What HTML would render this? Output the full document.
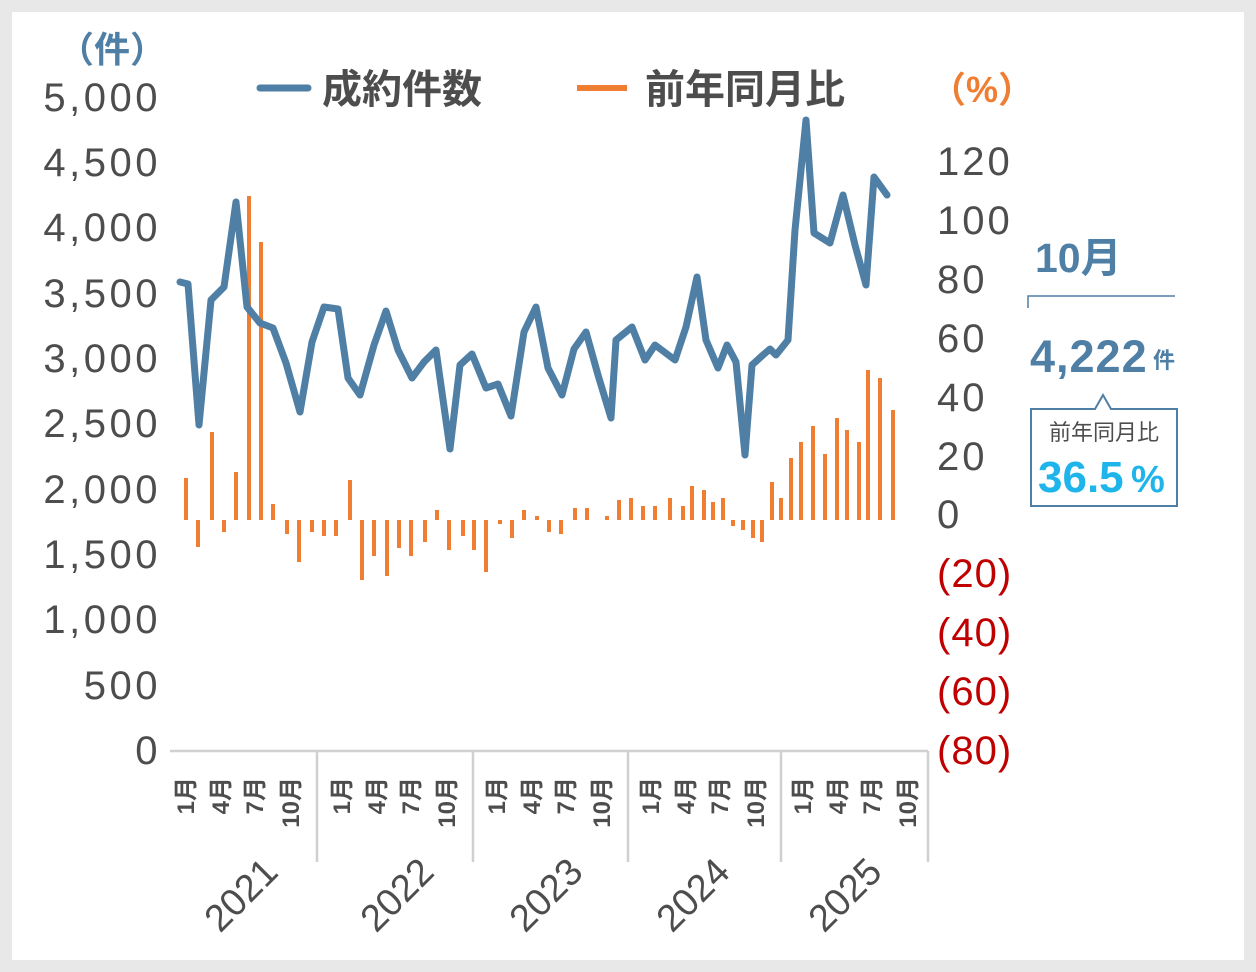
<!DOCTYPE html>
<html><head><meta charset="utf-8"><style>
html,body{margin:0;padding:0;background:#e8e8e8;}
svg{display:block;font-family:"Liberation Sans","Noto Sans CJK JP",sans-serif;}
</style></head><body>
<svg width="1256" height="972" viewBox="0 0 1256 972" xmlns="http://www.w3.org/2000/svg">
<rect x="0" y="0" width="1256" height="972" fill="#e8e8e8"/>
<rect x="12" y="12" width="1232" height="948" fill="#fff"/>
<!-- axis labels -->
<text x="58" y="62" font-size="36" font-weight="bold" fill="#4f7fa5">（件）</text>
<g font-size="40" fill="#4d4d4d" text-anchor="end" letter-spacing="3.5">
<text x="161" y="111">5,000</text><text x="161" y="176">4,500</text><text x="161" y="241">4,000</text>
<text x="161" y="307">3,500</text><text x="161" y="372">3,000</text><text x="161" y="437">2,500</text>
<text x="161" y="503">2,000</text><text x="161" y="568">1,500</text><text x="161" y="633">1,000</text>
<text x="161" y="699">500</text><text x="161" y="764">0</text>
</g>
<text x="930" y="102" font-size="36" font-weight="bold" fill="#ef7d32">（%）</text>
<g font-size="40" fill="#4d4d4d" letter-spacing="3">
<text x="937" y="175">120</text><text x="937" y="234">100</text><text x="937" y="293">80</text>
<text x="937" y="352">60</text><text x="937" y="411">40</text><text x="937" y="470">20</text>
<text x="937" y="528">0</text>
</g>
<g font-size="40" fill="#c00000" letter-spacing="1">
<text x="937" y="587">(20)</text><text x="937" y="646">(40)</text><text x="937" y="705">(60)</text><text x="937" y="764">(80)</text>
</g>
<!-- legend -->
<line x1="260" y1="88" x2="308" y2="88" stroke="#4f7fa5" stroke-width="7" stroke-linecap="round"/>
<text x="322" y="103" font-size="40" font-weight="bold" fill="#4d4d4d">成約件数</text>
<line x1="577" y1="88" x2="627" y2="88" stroke="#ef7d32" stroke-width="6"/>
<text x="645" y="103" font-size="40" font-weight="bold" fill="#4d4d4d">前年同月比</text>
<!-- axes -->
<g stroke="#d0d0d0" stroke-width="2.5">
<line x1="170" y1="751" x2="928" y2="751"/>
<line x1="317" y1="751" x2="317" y2="862"/><line x1="473" y1="751" x2="473" y2="862"/>
<line x1="628" y1="751" x2="628" y2="862"/><line x1="781" y1="751" x2="781" y2="862"/>
<line x1="928" y1="751" x2="928" y2="862"/>
</g>
<!-- bars -->
<path stroke="#ef7d32" stroke-width="4" fill="none" d="M186 520V478M198 520V547M212 520V432M224 520V532M236 520V472M249 520V196M261 520V242M273 520V504M287 520V534M299 520V562M312 520V532M324 520V536M336 520V536M350 520V480M362 520V580M374 520V556M387 520V576M399 520V548M411 520V556M425 520V542M437 520V510M449 520V550M463 520V536M474 520V550M486 520V572M500 520V524M512 520V538M524 520V510M537 520V516M549 520V532M561 520V534M575 520V508M587 520V508M607 520V516M619 520V500M631 520V498M643 520V506M655 520V506M670 520V498M683 520V506M692 520V486M704 520V490M713 520V502M723 520V498M733 520V526M743 520V530M753 520V538M762 520V542M772 520V482M781 520V498M791 520V458M801 520V442M813 520V426M825 520V454M837 520V418M847 520V430M859 520V442M868 520V370M880 520V378M893 520V410"/>
<!-- line -->
<polyline fill="none" stroke="#4f7fa5" stroke-width="7" stroke-linejoin="round" stroke-linecap="round" points="180,282 188,284 199,425 211,300 224,287 236,202 247,307 260,323 273,328 286,363 300,412 312,342 324,307 338,309 348,378 360,395 374,345 386,311 398,350 412,378 424,362 436,350 450,449 460,365 472,354 486,388 498,384 511,416 524,332 536,307 548,368 562,395 574,349 586,332 598,375 611,418 616,340 632,327 645,360 655,345 675,360 686,327 697,277 706,340 718,368 727,345 736,362 745,455 752,365 763,355 770,349 776,355 788,340 795,230 806,120 814,233 830,243 843,195 855,245 866,285 874,177 887,195"/>
<!-- month labels -->
<g font-size="24" font-weight="bold" fill="#4d4d4d" text-anchor="end">
<g id="m">
<text transform="translate(194,777) rotate(-90)">1月</text>
<text transform="translate(229,777) rotate(-90)">4月</text>
<text transform="translate(263,777) rotate(-90)">7月</text>
<text transform="translate(299,777) rotate(-90)">10月</text>
</g>
<use href="#m" x="156"/><use href="#m" x="311"/><use href="#m" x="465"/><use href="#m" x="617"/>
</g>
<g font-size="38" fill="#4d4d4d" text-anchor="middle">
<text transform="translate(250,904) rotate(-45)">2021</text>
<text transform="translate(406,904) rotate(-45)">2022</text>
<text transform="translate(555,904) rotate(-45)">2023</text>
<text transform="translate(702,904) rotate(-45)">2024</text>
<text transform="translate(854,904) rotate(-45)">2025</text>
</g>
<!-- annotation -->
<text x="1035" y="272" font-size="41" font-weight="bold" fill="#4f7fa5">10月</text>
<path d="M1028 308V296H1175" stroke="#4f7fa5" stroke-width="1.5" fill="none"/>
<text x="1030" y="372" font-size="45" font-weight="bold" fill="#4f7fa5" letter-spacing="1">4,222</text>
<text x="1153" y="368" font-size="22" font-weight="bold" fill="#4f7fa5">件</text>
<path d="M1031 409H1095L1103 395L1111 409H1177V506H1031Z" fill="#fff" stroke="#4f7fa5" stroke-width="2"/>
<text x="1104" y="440" font-size="22" fill="#4d4d4d" text-anchor="middle">前年同月比</text>
<text x="1038" y="492" font-size="44" font-weight="bold" fill="#1fb5ea">36.5</text>
<text x="1131" y="492" font-size="38" font-weight="bold" fill="#1fb5ea">%</text>
</svg>
</body></html>
